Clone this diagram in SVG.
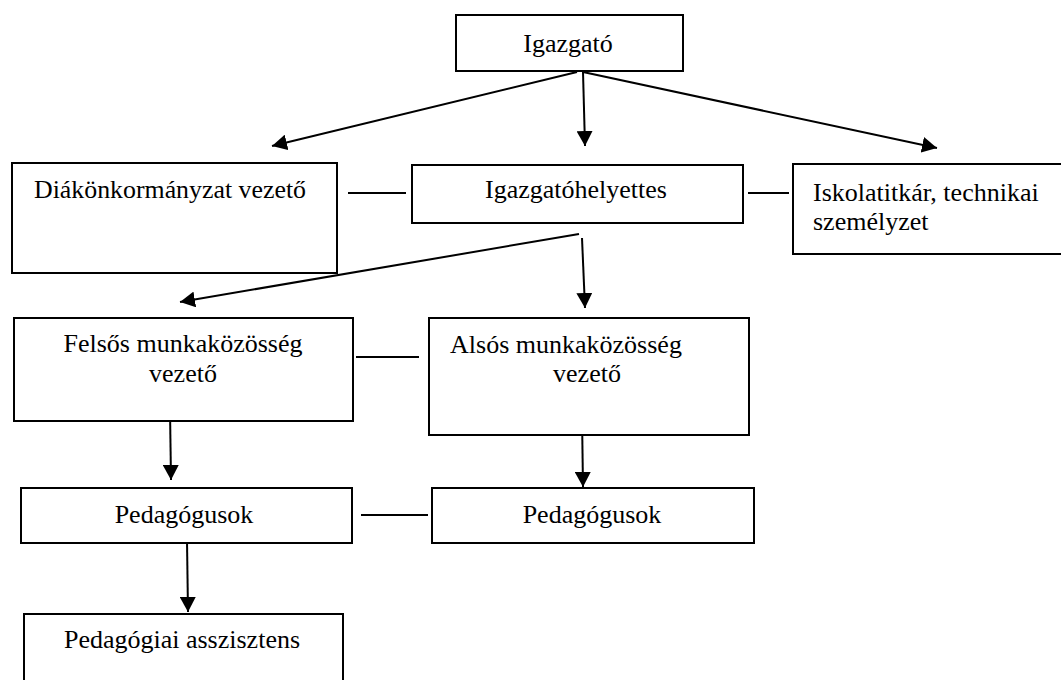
<svg xmlns="http://www.w3.org/2000/svg" width="1061" height="680" viewBox="0 0 1061 680">
<style>
.box{fill:#fff;stroke:#000;stroke-width:2}
.t{font-family:"Times New Roman","Liberation Serif",Times,"Tinos","DejaVu Serif","Noto Serif",serif;font-size:26px;fill:#000}
.c{text-anchor:middle}
.ln{stroke:#000;stroke-width:2;fill:none}
.ar{marker-end:url(#ah)}
</style>
<defs>
<marker id="ah" markerUnits="userSpaceOnUse" markerWidth="16" markerHeight="16" refX="15" refY="8" orient="auto" viewBox="0 0 16 16">
<path d="M0,0 L15,8 L0,16 Z" fill="#000"/>
</marker>
</defs>
<rect width="1061" height="680" fill="#fff"/>
<g id="connectors">
<line class="ln ar" x1="577" y1="72" x2="272" y2="146"/>
<line class="ln ar" x1="583" y1="72" x2="585" y2="146"/>
<line class="ln ar" x1="583" y1="72" x2="937" y2="148"/>
<line class="ln" x1="348" y1="193" x2="406" y2="193"/>
<line class="ln" x1="748" y1="193" x2="789" y2="193"/>
<line class="ln ar" x1="579" y1="234" x2="180" y2="302"/>
<line class="ln ar" x1="582" y1="238" x2="585" y2="308"/>
<line class="ln" x1="356" y1="357" x2="419" y2="357"/>
<line class="ln ar" x1="170" y1="410" x2="171" y2="480"/>
<line class="ln ar" x1="582" y1="416" x2="583" y2="487"/>
<line class="ln" x1="361" y1="515" x2="428" y2="515"/>
<line class="ln ar" x1="187" y1="541" x2="188" y2="612"/>
</g>
<g id="igazgato">
<rect class="box" x="456" y="15" width="227" height="56"/>
<text class="t c" x="568" y="52">Igazgató</text>
</g>
<g id="diakonkormanyzat">
<rect class="box" x="12" y="163" width="325" height="110"/>
<text class="t" x="34" y="198" textLength="272" lengthAdjust="spacingAndGlyphs">Diákönkormányzat vezető</text>
</g>
<g id="igazgatohelyettes">
<rect class="box" x="412" y="165" width="331" height="58"/>
<text class="t c" x="576" y="198">Igazgatóhelyettes</text>
</g>
<g id="iskolatitkar">
<rect class="box" x="793" y="164" width="280" height="90"/>
<text class="t" x="813" y="201">Iskolatitkár, technikai</text>
<text class="t" x="813" y="230">személyzet</text>
</g>
<g id="felsos">
<rect class="box" x="14" y="318" width="339" height="103"/>
<text class="t c" x="183" y="352">Felsős munkaközösség</text>
<text class="t c" x="183" y="382">vezető</text>
</g>
<g id="alsos">
<rect class="box" x="429" y="318" width="320" height="117"/>
<text class="t c" x="566" y="353">Alsós munkaközösség</text>
<text class="t c" x="587" y="382">vezető</text>
</g>
<g id="pedagogusok-felso">
<rect class="box" x="21" y="488" width="331" height="55"/>
<text class="t c" x="184" y="523">Pedagógusok</text>
</g>
<g id="pedagogusok-also">
<rect class="box" x="432" y="488" width="322" height="55"/>
<text class="t c" x="592" y="523">Pedagógusok</text>
</g>
<g id="asszisztens">
<rect class="box" x="24" y="614" width="319" height="80"/>
<text class="t c" x="182" y="648">Pedagógiai asszisztens</text>
</g>
</svg>
